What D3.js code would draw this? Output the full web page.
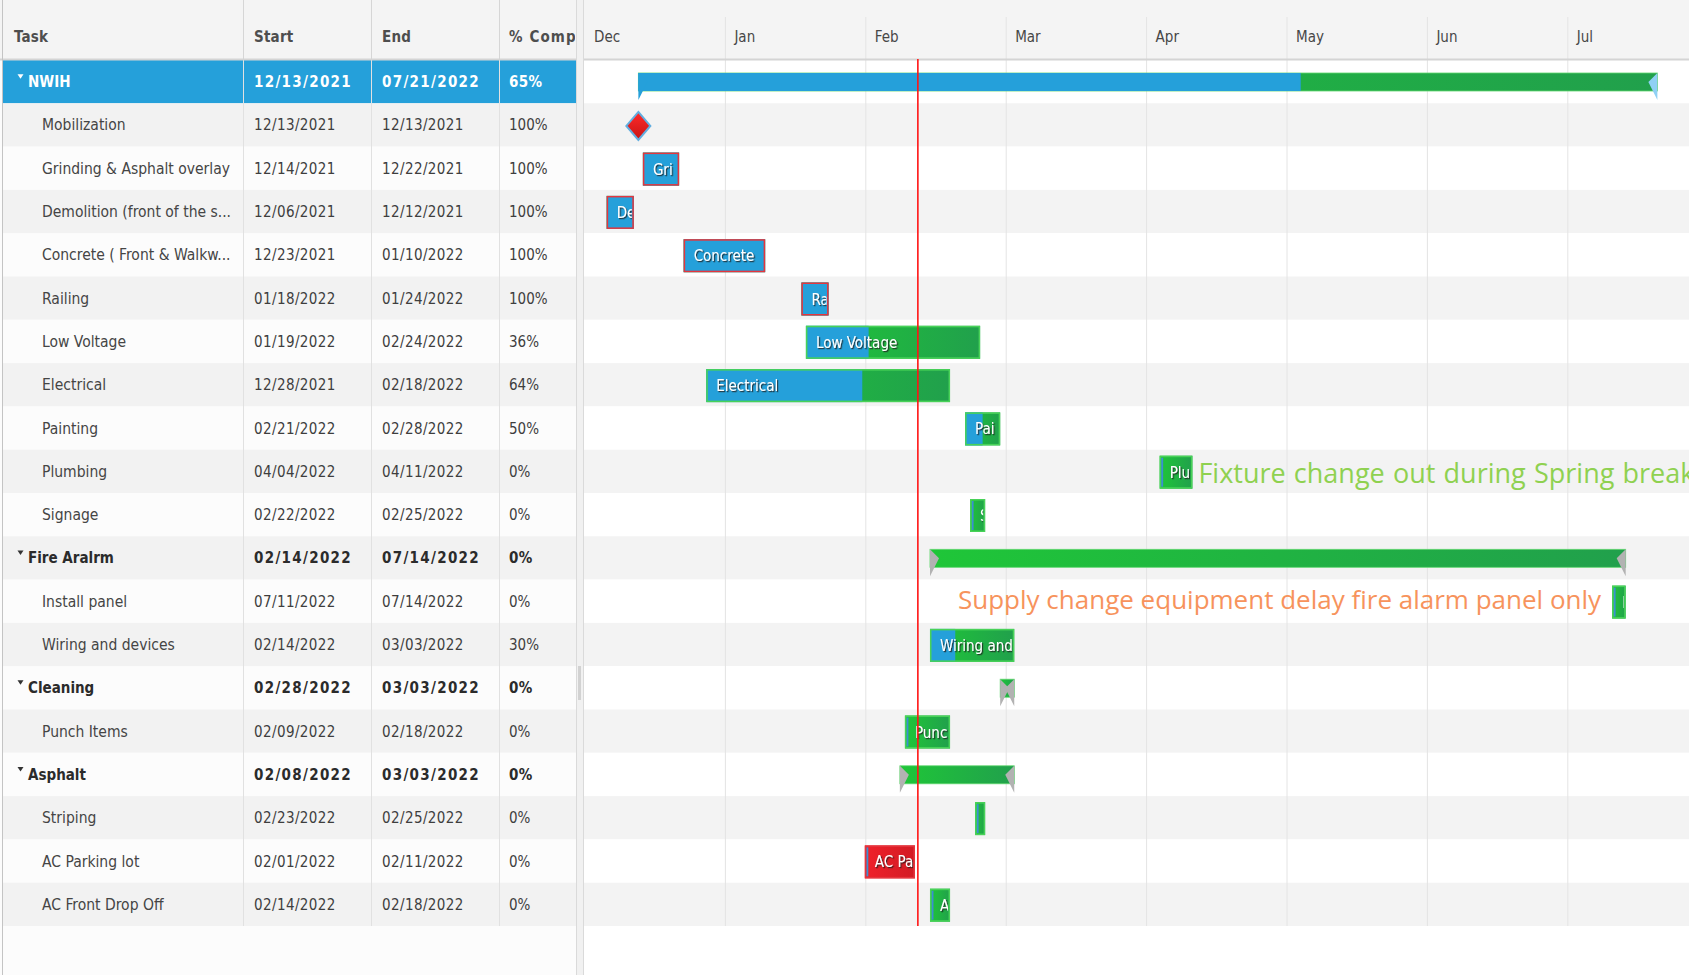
<!DOCTYPE html>
<html>
<head>
<meta charset="utf-8">
<script src="https://cdn.jsdelivr.net/npm/d3@7"></script>
<style>
  body { margin: 0; background: #fff; }
  svg { display: block; font-family: "DejaVu Sans Condensed", "DejaVu Sans", sans-serif; }
</style>
</head>
<body>
<svg id="gantt" width="1689" height="975"></svg>
<script>
// ---- data ----
var taskNames = ["NWIH", "Mobilization", "Grinding & Asphalt overlay", "Demolition (front of the school)",
  "Concrete ( Front & Walkway)", "Railing", "Low Voltage", "Electrical", "Painting", "Plumbing", "Signage",
  "Fire Aralrm", "Install panel", "Wiring and devices", "Cleaning", "Punch Items", "Asphalt", "Striping",
  "AC Parking lot", "AC Front Drop Off"];
var taskStart = ["2021-12-13", "2021-12-13", "2021-12-14", "2021-12-06", "2021-12-23", "2022-01-18", "2022-01-19",
  "2021-12-28", "2022-02-21", "2022-04-04", "2022-02-22", "2022-02-14", "2022-07-11", "2022-02-14", "2022-02-28",
  "2022-02-09", "2022-02-08", "2022-02-23", "2022-02-01", "2022-02-14"];
var taskEnd = ["2022-07-21", "2021-12-13", "2021-12-22", "2021-12-12", "2022-01-10", "2022-01-24", "2022-02-24",
  "2022-02-18", "2022-02-28", "2022-04-11", "2022-02-25", "2022-07-14", "2022-07-14", "2022-03-03", "2022-03-03",
  "2022-02-18", "2022-03-03", "2022-02-25", "2022-02-11", "2022-02-18"];
var taskPercent = [65, 100, 100, 100, 100, 100, 36, 64, 50, 0, 0, 0, 0, 30, 0, 0, 0, 0, 0, 0];
var taskKind = ["summary", "milestone", "task", "task", "task", "task", "task", "task", "task", "task", "task",
  "summary", "task", "task", "summary", "task", "summary", "task", "task", "task"];
var taskStatus = ["", "done", "done", "done", "done", "done", "", "", "", "", "", "", "", "", "", "", "", "", "late", ""];
var columnTitles = ["Task", "Start", "End", "% Complete"];
var noteTask = [9, 12];
var noteText = ["Fixture change out during Spring break", "Supply change equipment delay fire alarm panel only"];
var noteSide = ["right", "left"];
var noteColor = ["#8fd150", "#f7935c"];
var today = new Date(2022, 1, 11, 14);
var selectedRow = 0;

// ---- layout ----
var W = 1689, H = 975;
var gridRight = 576, chartLeft = 584, headerH = 59, rowTop0 = 60, rowH = 43.3, monthW = 140.4;
var colX = [0, 243, 371, 499, 576];
var colTextX = [14, 254, 382, 509];
var blue = "#25a0da";

var parse = d3.timeParse("%Y-%m-%d");
var fmt = d3.timeFormat("%m/%d/%Y");
var tasks = taskNames.map(function(name, i) {
  return { name: name, row: i, start: parse(taskStart[i]), end: parse(taskEnd[i]), pct: taskPercent[i],
    kind: taskKind[i], status: taskStatus[i] };
});
var n = tasks.length;

var months = d3.timeMonth.range(new Date(2021, 11, 1), new Date(2022, 8, 1));
var x = d3.scaleTime().domain(months).range(months.map(function(d, i) { return chartLeft + i * monthW; }));
var y = d3.scaleBand().domain(d3.range(n)).range([rowTop0, rowTop0 + n * rowH]);
var rowsEnd = rowTop0 + n * rowH;

var svg = d3.select("#gantt");
var defs = svg.append("defs");

function grad(id, c1, c2, vertical) {
  var lg = defs.append("linearGradient").attr("id", id)
    .attr("x1", 0).attr("y1", 0).attr("x2", vertical ? 0 : 1).attr("y2", vertical ? 1 : 0);
  lg.append("stop").attr("offset", 0).attr("stop-color", c1);
  lg.append("stop").attr("offset", 1).attr("stop-color", c2);
}
grad("gGreen", "#1fc638", "#21a04c");
grad("gRed", "#f0212a", "#d21b24");
grad("gMile", "#ff2b2b", "#c81414", true);

var shadow = defs.append("filter").attr("id", "tshadow").attr("x", "-20%").attr("y", "-40%").attr("width", "140%").attr("height", "180%");
shadow.append("feDropShadow").attr("dx", 1.2).attr("dy", 1.2).attr("stdDeviation", 0.7)
  .attr("flood-color", "#222").attr("flood-opacity", 0.85);

defs.append("clipPath").attr("id", "chartClip").append("rect")
  .attr("x", chartLeft).attr("y", 0).attr("width", W - chartLeft).attr("height", H);

// ---- backgrounds ----
svg.append("rect").attr("width", gridRight).attr("height", H).attr("fill", "#fcfcfc");
svg.append("rect").attr("width", gridRight).attr("height", headerH).attr("fill", "#f4f4f4");
svg.append("rect").attr("x", chartLeft).attr("width", W - chartLeft).attr("height", H).attr("fill", "#fff");
svg.append("rect").attr("x", chartLeft).attr("width", W - chartLeft).attr("height", headerH).attr("fill", "#f4f4f4");

svg.append("g").selectAll("rect").data(tasks).join("rect")
  .attr("x", 3).attr("y", function(d) { return y(d.row); })
  .attr("width", gridRight - 3).attr("height", y.bandwidth())
  .attr("fill", function(d) { return d.row === selectedRow ? blue : (d.row % 2 ? "#f2f2f2" : "#fcfcfc"); });

svg.append("g").selectAll("rect").data(tasks).join("rect")
  .attr("x", chartLeft).attr("y", function(d) { return y(d.row); })
  .attr("width", W - chartLeft).attr("height", y.bandwidth())
  .attr("fill", function(d) { return d.row % 2 ? "#f3f3f3" : "#fff"; });

// grid column lines
svg.append("g").selectAll("line").data(colX.slice(1, 4)).join("line")
  .attr("x1", function(d) { return d + 0.5; }).attr("x2", function(d) { return d + 0.5; })
  .attr("y1", 0).attr("y2", rowsEnd).attr("stroke", "#e1e1e1");
svg.append("g").selectAll("line").data(colX.slice(1, 4)).join("line")
  .attr("x1", function(d) { return d + 0.5; }).attr("x2", function(d) { return d + 0.5; })
  .attr("y1", 0).attr("y2", headerH).attr("stroke", "#d6d6d6");

// ---- month axis / gridlines ----
var axis = svg.append("g").attr("transform", "translate(0,17)")
  .call(d3.axisBottom(x).tickValues(months.slice(1)).tickSize(rowsEnd - 17)
    .tickFormat(d3.timeFormat("%b")));
axis.select(".domain").remove();
axis.selectAll(".tick line").attr("stroke", "#e4e4e4").attr("transform", "translate(0.5,0)");
axis.selectAll(".tick text").remove();
svg.append("g").selectAll("text").data(months.slice(0, 8)).join("text")
  .attr("x", function(d) { return x(d) + 10; }).attr("y", 42)
  .attr("font-size", 15).attr("fill", "#474747")
  .text(d3.timeFormat("%b"));

// borders
svg.append("line").attr("x1", 0).attr("x2", W).attr("y1", headerH + 0.5).attr("y2", headerH + 0.5)
  .attr("stroke", "#d4d4d4").attr("stroke-width", 2);
svg.append("line").attr("x1", 2.5).attr("x2", 2.5).attr("y1", 0).attr("y2", H).attr("stroke", "#c4c4c4");
svg.append("rect").attr("x", gridRight).attr("y", 0).attr("width", chartLeft - gridRight).attr("height", H).attr("fill", "#f1f1f1");
svg.append("line").attr("x1", gridRight + 0.5).attr("x2", gridRight + 0.5).attr("y1", 0).attr("y2", H).attr("stroke", "#dadada");
svg.append("line").attr("x1", chartLeft - 0.5).attr("x2", chartLeft - 0.5).attr("y1", 0).attr("y2", H).attr("stroke", "#dadada");
svg.append("rect").attr("x", gridRight + 2).attr("y", 666).attr("width", 3).attr("height", 34).attr("fill", "#d2d2d2");

// ---- grid header and cells ----
function cutChars(t, right) {
  // keep only the characters that begin left of the cut line
  var node = t.node(), full = t.text(), keep = 1;
  for (var c = 1; c < full.length; c++) {
    if (node.getStartPositionOfChar(c).x < right) keep = c + 1; else break;
  }
  t.text(full.slice(0, keep));
}

defs.append("clipPath").attr("id", "lastCol").append("rect")
  .attr("x", colX[3]).attr("y", 0).attr("width", colX[4] - colX[3] - 1).attr("height", H);
svg.append("g").selectAll("text").data(columnTitles).join("text")
  .attr("x", function(d, i) { return colTextX[i]; }).attr("y", 42)
  .attr("clip-path", function(d, i) { return i === 3 ? "url(#lastCol)" : null; })
  .attr("letter-spacing", function(d, i) { return i === 3 ? 1.1 : 0.2; })
  .attr("font-size", 15).attr("font-weight", "bold").attr("fill", "#4e4e4e")
  .text(function(d) { return d; })
  .each(function(d, i) { if (i === 3) cutChars(d3.select(this), colX[4] - 6); });

function fitText(sel, maxW) {
  sel.each(function() {
    var t = d3.select(this), full = t.text();
    if (this.getComputedTextLength() <= maxW) return;
    var k = full.length;
    while (k > 1) {
      k--;
      t.text(full.slice(0, k) + "...");
      if (this.getComputedTextLength() <= maxW) break;
    }
  });
}

var cells = svg.append("g").selectAll("g").data(tasks).join("g")
  .attr("transform", function(d) { return "translate(0," + (y(d.row) + y.bandwidth() / 2 + 5.5) + ")"; })
  .attr("font-size", 15);

cells.each(function(d) {
  var g = d3.select(this);
  var group = d.kind === "summary";
  var sel = d.row === selectedRow;
  var color = sel ? "#fff" : (group ? "#2b2b2b" : "#454545");
  if (group) {
    g.append("path").attr("d", "M17.5,-13 h6 l-3,4.5 z").attr("fill", sel ? "#fff" : "#333");
  }
  g.append("text").attr("x", group ? 28 : 42).attr("fill", color)
    .attr("font-weight", group ? "bold" : null)
    .attr("font-size", group ? 15 : 15.5)
    .text(d.name).call(fitText, group ? 200 : 193);
  var vals = [fmt(d.start), fmt(d.end), d.pct + "%"];
  vals.forEach(function(v, i) {
    g.append("text").attr("x", colTextX[i + 1]).attr("fill", sel ? "#fff" : (group ? "#2b2b2b" : "#3e3e3e"))
      .attr("font-weight", group ? "bold" : null)
      .attr("letter-spacing", group ? (i < 2 ? 1.3 : 0.3) : (i < 2 ? 0.4 : 0))
      .text(v);
  });
});

// ---- bars ----
var bars = svg.append("g").attr("clip-path", "url(#chartClip)");

tasks.forEach(function(t) {
  var x0 = x(t.start), x1 = x(t.end), w = x1 - x0, rt = y(t.row);
  if (t.kind === "summary") {
    var top = rt + 13, h = 18;
    bars.append("rect").attr("x", x0).attr("y", top).attr("width", w).attr("height", h)
      .attr("fill", "url(#gGreen)").attr("stroke", "#62d86f").attr("stroke-width", 0.8);
    if (t.pct > 0) {
      bars.append("rect").attr("x", x0).attr("y", top).attr("width", w * t.pct / 100).attr("height", h).attr("fill", blue);
    }
    bars.append("polygon")
      .attr("points", [[x0, top], [x0, top + h + 9], [x0 + 9, top + 9]].join(" "))
      .attr("fill", t.pct > 0 ? blue : "#b2b2b2");
    bars.append("polygon")
      .attr("points", [[x1, top], [x1, top + h + 9], [x1 - 9, top + 9]].join(" "))
      .attr("fill", t.pct > 0 ? "#8fd0f4" : "#b2b2b2");
  } else if (t.kind === "milestone") {
    var cx = x0, cy = rt + y.bandwidth() / 2 + 1;
    bars.append("polygon")
      .attr("points", [[cx, cy - 14], [cx + 12, cy], [cx, cy + 14], [cx - 12, cy]].join(" "))
      .attr("fill", "url(#gMile)").attr("stroke", "#62aee0").attr("stroke-width", 2);
  } else {
    var bt = rt + 6, bh = 33;
    var redBorder = t.status === "done" || t.status === "late";
    bars.append("rect").attr("x", x0).attr("y", bt).attr("width", w).attr("height", bh)
      .attr("fill", t.status === "late" ? "url(#gRed)" : "url(#gGreen)");
    if (t.pct > 0) {
      bars.append("rect").attr("x", x0).attr("y", bt).attr("width", w * t.pct / 100).attr("height", bh).attr("fill", blue);
    } else {
      bars.append("rect").attr("x", x0 + 1.5).attr("y", bt + 2).attr("width", 2).attr("height", bh - 4).attr("fill", "#3b8fd2");
    }
    bars.append("rect").attr("x", x0 + 0.75).attr("y", bt + 0.75).attr("width", Math.max(0, w - 1.5)).attr("height", bh - 1.5)
      .attr("fill", "none").attr("stroke", redBorder ? "#e5353d" : "#48d258").attr("stroke-width", 1.5);
    var cid = "clip-" + t.row;
    defs.append("clipPath").attr("id", cid).append("rect")
      .attr("x", x0 + 2).attr("y", bt).attr("width", Math.max(0, w - 4)).attr("height", bh);
    bars.append("text").attr("clip-path", "url(#" + cid + ")")
      .attr("x", x0 + 10).attr("y", bt + bh / 2 + 5.5)
      .attr("font-size", 15).attr("fill", "#fff").attr("filter", "url(#tshadow)")
      .text(t.name)
      .call(cutChars, x1 - 6.5);
  }
});

// notes
noteTask.forEach(function(r, i) {
  var t = tasks[r];
  var right = noteSide[i] === "right";
  bars.append("text")
    .attr("x", right ? x(t.end) + 6 : x(t.start) - 11)
    .attr("y", y(r) + (right ? 33 : 29))
    .attr("text-anchor", right ? "start" : "end")
    .attr("font-family", "'Open Sans', sans-serif")
    .attr("font-size", right ? 27 : 26)
    .attr("word-spacing", right ? 1.2 : 0)
    .attr("fill", noteColor[i])
    .text(noteText[i]);
});

// today line
svg.append("line").attr("x1", x(today)).attr("x2", x(today))
  .attr("y1", headerH).attr("y2", rowsEnd).attr("stroke", "#ff1414").attr("stroke-width", 1.6);
</script>
</body>
</html>
